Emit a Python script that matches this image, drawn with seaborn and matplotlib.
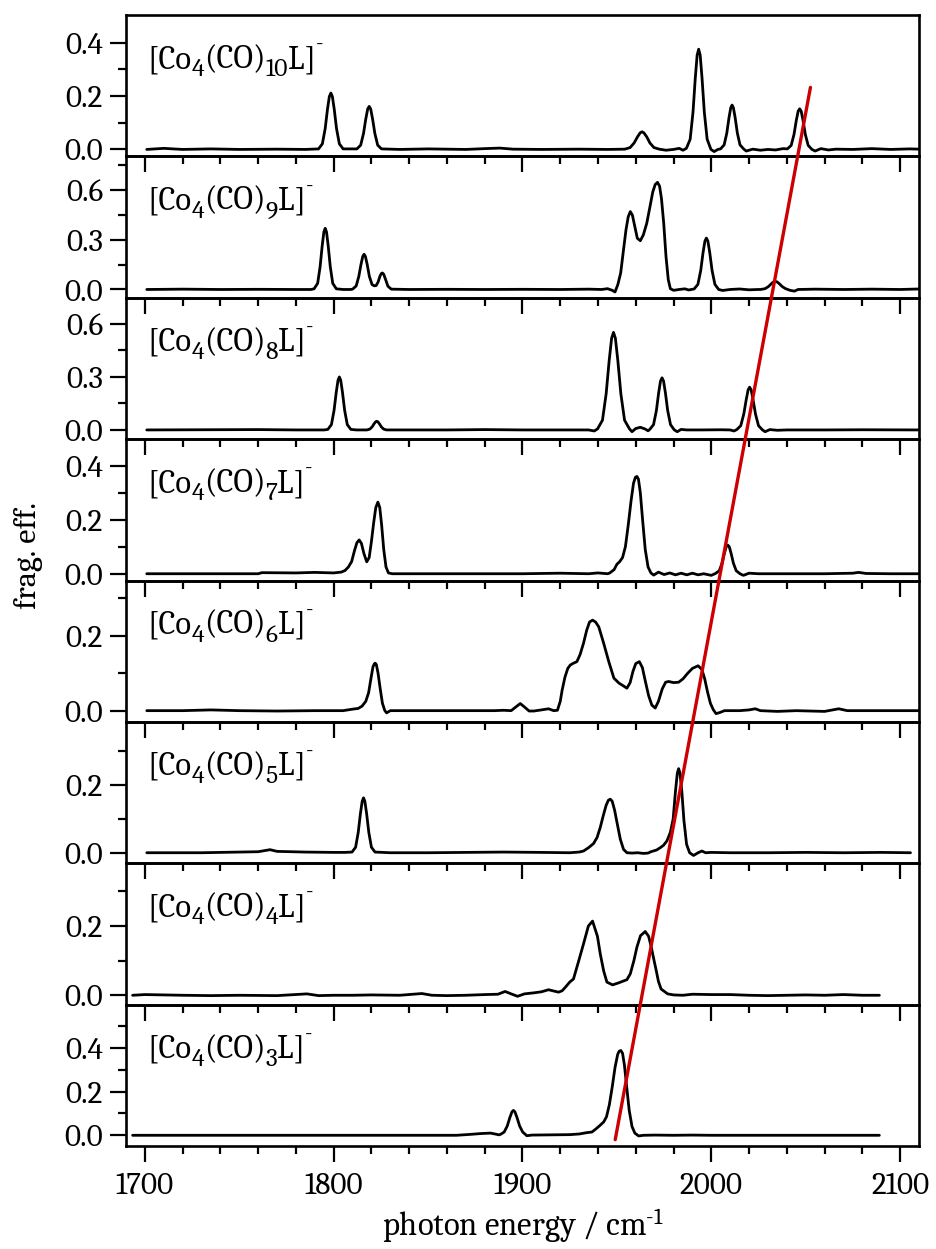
import matplotlib
matplotlib.use("Agg")
import matplotlib.pyplot as plt
from matplotlib import font_manager as fm
from matplotlib.transforms import IdentityTransform
from matplotlib.patches import ConnectionPatch
from matplotlib.ticker import FixedLocator, FormatStrFormatter, MultipleLocator
import seaborn as sns
import pandas as pd

# ---------------- data ----------------
co_counts = ["10", "9", "8", "7", "6", "5", "4", "3"]

x_co10 = [1701, 1710, 1720, 1735, 1750, 1770, 1785,
          1792.0, 1794.0, 1795.5, 1796.7, 1797.7, 1798.5, 1799.3, 1800.3, 1801.5, 1803.0, 1805.0,
          1812.3, 1814.3, 1815.8, 1817.0, 1818.0, 1818.8, 1819.6, 1820.6, 1821.8, 1823.3, 1825.3,
          1835, 1850, 1870, 1880, 1888, 1895, 1910, 1930, 1945,
          1954.2, 1957.0, 1959.1, 1960.9, 1962.3, 1963.3, 1964.3, 1965.8, 1967.5, 1969.6, 1972.4,
          1976, 1980, 1983, 1985,
          1986.8, 1988.8, 1990.3, 1991.5, 1992.5, 1993.3, 1994.1, 1995.1, 1996.3, 1997.8, 1999.8,
          2001.5, 2003.5,
          2004.9, 2006.8, 2008.2, 2009.35, 2010.3, 2011.0, 2011.7, 2012.65, 2013.8, 2015.2, 2017.1,
          2018.5, 2022, 2026, 2030, 2034, 2038,
          2040.3, 2042.3, 2043.8, 2045.0, 2046.0, 2046.8, 2047.6, 2048.6, 2049.8, 2051.3, 2053.3,
          2055, 2058, 2062, 2066, 2075, 2085, 2095, 2105, 2110]
y_co10 = [0.0, 0.004, 0.0, 0.002, 0.0, 0.001, 0.0,
          0.002, 0.021, 0.078, 0.150, 0.198, 0.211, 0.198, 0.150, 0.078, 0.021, 0.002,
          0.002, 0.016, 0.060, 0.114, 0.151, 0.161, 0.151, 0.114, 0.060, 0.016, 0.002,
          0.0, 0.002, 0.0, 0.003, 0.005, 0.001, 0.0, 0.001, 0.0,
          0.001, 0.007, 0.024, 0.047, 0.062, 0.066, 0.062, 0.047, 0.024, 0.007, 0.001,
          -0.003, 0.0, 0.004, -0.003,
          0.004, 0.038, 0.139, 0.266, 0.353, 0.375, 0.353, 0.266, 0.139, 0.038, 0.0,
          -0.008, 0.0,
          0.002, 0.017, 0.061, 0.118, 0.156, 0.166, 0.156, 0.118, 0.061, 0.017, 0.002,
          -0.006, 0.001, -0.003, 0.0, -0.002, 0.003,
          0.002, 0.015, 0.056, 0.108, 0.143, 0.152, 0.143, 0.108, 0.056, 0.015, 0.0,
          -0.006, 0.003, -0.002, 0.001, 0.0, 0.003, 0.0, 0.002, 0.001]

x_co9 = [1701, 1720, 1740, 1760, 1780, 1788,
         1789.6, 1791.5, 1792.8, 1793.9, 1794.8, 1795.5, 1796.2, 1797.1, 1798.2, 1799.5, 1801.4,
         1805, 1809,
         1810.0, 1811.9, 1813.3, 1814.45, 1815.4, 1816.1, 1816.8, 1817.75, 1818.9, 1820.3,
         1821.5, 1822.5, 1823.5, 1824.5, 1825.2, 1825.8, 1826.5, 1827.5, 1828.7, 1830.5,
         1840, 1860, 1880, 1900, 1920, 1935, 1942, 1945, 1947.5, 1949,
         1950.5, 1952.0, 1953.5, 1954.8, 1956.0, 1957.1, 1958.2, 1959.5, 1960.8, 1962.4,
         1964.0, 1965.8, 1967.5, 1969.0, 1970.3, 1971.5, 1972.6, 1973.6, 1974.8, 1976.0,
         1977.2, 1978.3, 1980, 1983, 1986, 1988,
         1990.9, 1992.9, 1994.4, 1995.6, 1996.6, 1997.4, 1998.2, 1999.2, 2000.4, 2001.9, 2003.9,
         2006, 2010, 2015, 2020, 2025,
         2026.1, 2028.5, 2030.3, 2031.8, 2033.0, 2033.9, 2034.8, 2036.0, 2037.5, 2039.3, 2041.7,
         2044, 2046, 2055, 2070, 2085, 2100, 2110]
y_co9 = [0.0, 0.002, 0.0, 0.001, 0.0, 0.0,
         0.004, 0.037, 0.137, 0.263, 0.348, 0.370, 0.348, 0.263, 0.137, 0.037, 0.004,
         0.0, 0.0,
         0.002, 0.021, 0.079, 0.151, 0.200, 0.213, 0.200, 0.151, 0.079, 0.030,
         0.022, 0.024, 0.045, 0.080, 0.096, 0.100, 0.092, 0.060, 0.020, 0.002,
         0.0, 0.001, 0.0, 0.001, 0.0, 0.002, 0.0, 0.005, -0.005, -0.015,
         0.03, 0.10, 0.24, 0.36, 0.44, 0.471, 0.45, 0.38, 0.31, 0.295,
         0.33, 0.40, 0.50, 0.59, 0.635, 0.648, 0.625, 0.55, 0.40, 0.20,
         0.06, 0.005, -0.005, 0.0, 0.004, -0.003,
         0.003, 0.031, 0.115, 0.221, 0.292, 0.311, 0.292, 0.221, 0.115, 0.031, 0.0,
         -0.006, 0.0, 0.003, -0.002, 0.0,
         0.0, 0.005, 0.018, 0.035, 0.046, 0.049, 0.046, 0.035, 0.018, 0.005, -0.005,
         -0.010, 0.0, 0.002, 0.0, 0.002, 0.0, 0.003]

x_co8 = [1701, 1730, 1760, 1780, 1795,
         1796.9, 1798.8, 1800.2, 1801.35, 1802.3, 1803.0, 1803.7, 1804.65, 1805.8, 1807.2, 1809.1,
         1812, 1817,
         1817.6, 1819.2, 1820.4, 1821.4, 1822.2, 1822.8, 1823.4, 1824.2, 1825.2, 1826.4, 1828.0,
         1840, 1860, 1880, 1900, 1920, 1935, 1938,
         1939.75, 1942.35, 1944.3, 1945.9, 1947.2, 1948.2, 1949.2, 1950.5, 1952.1, 1954.05, 1956.65,
         1958, 1960, 1962.4, 1965, 1966.5,
         1967.4, 1969.4, 1970.9, 1972.1, 1973.1, 1973.9, 1974.7, 1975.7, 1976.9, 1978.4, 1980.4,
         1982, 1984, 1987, 1995, 2005, 2010, 2012,
         2013.5, 2015.6, 2017.2, 2018.5, 2019.5, 2020.3, 2021.1, 2022.1, 2023.4, 2025.0, 2027.1,
         2028.5, 2031, 2035, 2040, 2060, 2080, 2110]
y_co8 = [0.0, 0.001, 0.002, 0.0, 0.0,
         0.003, 0.030, 0.111, 0.213, 0.282, 0.300, 0.282, 0.213, 0.111, 0.030, 0.003,
         0.0, 0.0,
         0.0, 0.005, 0.018, 0.035, 0.046, 0.049, 0.046, 0.035, 0.018, 0.005, 0.0,
         0.0, 0.0, 0.002, 0.0, 0.0, 0.0, -0.006,
         0.006, 0.055, 0.204, 0.392, 0.519, 0.552, 0.519, 0.392, 0.204, 0.055, 0.006,
         -0.010, 0.008, 0.015, 0.005, -0.005,
         0.003, 0.030, 0.109, 0.209, 0.277, 0.295, 0.277, 0.209, 0.109, 0.030, 0.0,
         -0.010, 0.003, 0.0, 0.0, 0.001, 0.0, -0.006,
         0.002, 0.024, 0.090, 0.172, 0.227, 0.242, 0.227, 0.172, 0.090, 0.024, 0.0,
         -0.010, 0.002, -0.002, 0.0, 0.0, 0.001, 0.0]

x_co7 = [1701, 1740, 1760, 1762, 1780, 1790, 1800, 1804,
         1806, 1807.8, 1809.5, 1811, 1812.3, 1813.5, 1814.7, 1816, 1817.5, 1818.8,
         1820, 1821.2, 1822.3, 1823.4, 1824.4, 1825.4, 1826.5, 1827.7, 1829, 1831,
         1840, 1860, 1880, 1900, 1920, 1935, 1940, 1945,
         1946, 1948.5, 1950, 1951.5, 1953, 1954.5, 1956, 1957.5, 1958.8, 1959.8,
         1960.6, 1961.4, 1962.4, 1963.6, 1965, 1966.5, 1968, 1969.5,
         1972, 1975, 1978, 1981, 1984, 1987, 1990, 1993, 1996, 2000,
         2002.2, 2004.2, 2005.7, 2006.9, 2007.9, 2008.7, 2009.5, 2010.5, 2011.7, 2013.2, 2015.2,
         2017, 2020, 2025, 2040, 2060, 2075, 2078, 2082, 2095, 2110]
y_co7 = [0.0, 0.0, 0.0, 0.004, 0.003, 0.005, 0.003, 0.006,
         0.012, 0.025, 0.045, 0.085, 0.115, 0.125, 0.112, 0.075, 0.044, 0.060,
         0.120, 0.190, 0.245, 0.265, 0.245, 0.180, 0.090, 0.025, 0.003, 0.0,
         0.0, 0.0, 0.0, 0.0, 0.002, 0.0, 0.003, 0.0,
         0.002, 0.015, 0.035, 0.045, 0.060, 0.100, 0.180, 0.270, 0.335, 0.357,
         0.360, 0.350, 0.300, 0.200, 0.090, 0.025, 0.003, -0.005,
         0.006, -0.003, 0.003, -0.004, 0.002, -0.004, 0.002, -0.004, 0.0, -0.006,
         0.001, 0.011, 0.039, 0.075, 0.100, 0.106, 0.100, 0.075, 0.039, 0.011, 0.0,
         -0.006, 0.002, 0.0, 0.0, 0.0, 0.002, 0.005, 0.001, 0.0, 0.0]

x_co6 = [1701, 1720, 1735, 1750, 1770, 1790, 1805, 1810,
         1813, 1815, 1817, 1818.5, 1819.7, 1820.8, 1821.5, 1822, 1822.6, 1823.5, 1824.6, 1825.8,
         1827, 1828, 1830,
         1850, 1870, 1885, 1890,
         1894, 1896.5, 1898.8, 1901, 1903.5, 1906, 1910, 1913.8, 1916.5,
         1918.5, 1920, 1921, 1922.5, 1924, 1925.3, 1927, 1928.8, 1930.5, 1932.3,
         1934, 1935.5, 1937.1, 1938.7, 1940.4, 1943.0, 1945.7, 1948.4, 1951.0, 1953.5,
         1955.3, 1957, 1958.5, 1960, 1961.9, 1963.5, 1965, 1966.8, 1968.5, 1970.3,
         1972, 1974, 1975.8, 1977.4, 1980, 1982.7, 1985, 1987.5, 1990, 1993,
         1995, 1996.5, 1998, 1999.5, 2001, 2002.5, 2004.5, 2007,
         2015, 2020, 2023.3, 2026, 2035, 2045, 2060, 2067.5, 2072, 2090, 2110]
y_co6 = [0.0, 0.0, 0.002, 0.0, -0.001, 0.0, 0.0, 0.004,
         0.006, 0.012, 0.025, 0.048, 0.085, 0.117, 0.125, 0.127, 0.123, 0.100, 0.060, 0.020,
         0.001, -0.006, 0.0,
         0.0, 0.0, 0.0, 0.001,
         0.0, 0.010, 0.019, 0.010, -0.001, -0.001, 0.002, 0.005, 0.0,
         0.001, 0.025, 0.055, 0.090, 0.113, 0.122, 0.127, 0.131, 0.150, 0.180,
         0.215, 0.237, 0.242, 0.237, 0.224, 0.180, 0.131, 0.087, 0.074, 0.066,
         0.060, 0.075, 0.105, 0.126, 0.131, 0.115, 0.080, 0.040, 0.015, 0.007,
         0.025, 0.058, 0.076, 0.078, 0.075, 0.076, 0.085, 0.100, 0.113, 0.120,
         0.110, 0.085, 0.050, 0.020, 0.003, -0.008, -0.005, 0.0,
         0.0, 0.002, 0.005, 0.0, -0.002, 0.0, -0.002, 0.005, 0.0, 0.0, 0.0]

x_co5 = [1701, 1730, 1750, 1760, 1766.3, 1770, 1785, 1800, 1806,
         1809.7, 1811.6, 1813.0, 1814.15, 1815.1, 1815.8, 1816.5, 1817.45, 1818.6, 1820.0, 1821.9,
         1830, 1850, 1870, 1890, 1910, 1925, 1930,
         1932.3, 1935, 1937.6, 1939.5, 1941.2, 1942.8, 1944.3, 1945.5, 1946.5, 1947.5,
         1948.8, 1950.2, 1951.8, 1953.5, 1955.3, 1958, 1961, 1964, 1966.5, 1968,
         1971, 1973, 1974.7,
         1976.5, 1978.3, 1979.8, 1981.0, 1982.0, 1982.7, 1983.4, 1984.4, 1985.5, 1986.9,
         1988.5, 1990.6, 1993, 1995, 1997,
         2000, 2010, 2030, 2050, 2070, 2090, 2105.5]
y_co5 = [0.0, 0.0, 0.002, 0.003, 0.009, 0.004, 0.002, 0.001, 0.001,
         0.002, 0.016, 0.060, 0.115, 0.152, 0.162, 0.152, 0.115, 0.060, 0.016, 0.002,
         0.0, 0.0, 0.001, 0.002, 0.001, 0.0, 0.002,
         0.005, 0.015, 0.027, 0.045, 0.075, 0.110, 0.140, 0.155, 0.158, 0.152,
         0.125, 0.085, 0.040, 0.010, 0.0, -0.001, 0.0, -0.002, -0.001, 0.003,
         0.008, 0.015, 0.022,
         0.035, 0.060, 0.100, 0.180, 0.235, 0.248, 0.235, 0.180, 0.095, 0.025,
         0.0, -0.008, 0.0, 0.005, 0.0,
         0.001, 0.0, 0.0, 0.001, 0.0, 0.001, 0.0]

x_co4 = [1693.5, 1700, 1710, 1720, 1735, 1750, 1770, 1785.8, 1792, 1800,
         1810, 1820, 1835, 1846.7, 1852, 1860, 1870, 1880, 1887, 1890.8,
         1894, 1897.4, 1901, 1906, 1910, 1913.8, 1916, 1919.1, 1921, 1923, 1925,
         1927, 1929.6, 1932.3, 1934.9, 1937.1, 1939.7, 1941.2, 1943, 1944.7, 1947.7, 1951, 1955.3,
         1957.1, 1959, 1960.6, 1962.5, 1965, 1966.8, 1968.2, 1969.5, 1970.8, 1972, 1973.4, 1976.9, 1980,
         1985, 1990, 2000, 2010, 2020, 2030, 2040, 2050, 2060, 2070, 2080, 2089]
y_co4 = [0.0, 0.002, 0.001, 0.0, -0.001, 0.0, -0.001, 0.004, -0.001, 0.0,
         0.0, 0.001, 0.0, 0.005, 0.0, -0.001, 0.0, 0.002, 0.003, 0.011,
         0.004, -0.003, 0.004, 0.007, 0.010, 0.016, 0.013, 0.009, 0.013, 0.025, 0.038,
         0.047, 0.096, 0.148, 0.200, 0.214, 0.170, 0.119, 0.070, 0.038, 0.030, 0.036, 0.045,
         0.062, 0.100, 0.139, 0.172, 0.184, 0.170, 0.139, 0.105, 0.072, 0.040, 0.018, 0.004, 0.001,
         0.0, 0.003, 0.002, 0.002, 0.0, -0.001, 0.0, 0.001, 0.0, 0.002, 0.0, 0.0]

x_co3 = [1693.5, 1750, 1800, 1850, 1865, 1872, 1878, 1883, 1886, 1887.5,
         1888.5, 1890.3, 1891.9, 1893.3, 1894.4, 1895.2, 1896.0, 1897.1, 1898.5, 1900.1, 1902.3,
         1905, 1915, 1925, 1930, 1934,
         1936.8, 1939, 1941, 1943, 1944.5, 1946, 1947.5, 1949, 1950.4, 1951.2,
         1952.1, 1953, 1954, 1955.2, 1956.5, 1958, 1959.5, 1961.5,
         1964, 1970, 1980, 1990, 2000, 2050, 2089]
y_co3 = [0.0, 0.0, 0.0, 0.0, 0.0, 0.004, 0.008, 0.010, 0.005, 0.002,
         0.005, 0.015, 0.042, 0.081, 0.107, 0.114, 0.107, 0.081, 0.042, 0.015, -0.002,
         0.001, 0.002, 0.003, 0.006, 0.012,
         0.015, 0.030, 0.045, 0.061, 0.085, 0.140, 0.220, 0.310, 0.370, 0.385,
         0.388, 0.375, 0.320, 0.220, 0.115, 0.040, 0.010, -0.003,
         0.0, 0.001, 0.0, 0.001, 0.0, 0.0, 0.0]

series_x = [x_co10, x_co9, x_co8, x_co7, x_co6, x_co5, x_co4, x_co3]
series_y = [y_co10, y_co9, y_co8, y_co7, y_co6, y_co5, y_co4, y_co3]

y_limits = [(-0.026, 0.503), (-0.05, 0.805), (-0.052, 0.748), (-0.025, 0.498),
            (-0.03, 0.348), (-0.031, 0.386), (-0.027, 0.381), (-0.049, 0.598)]
y_major = [[0.0, 0.2, 0.4], [0.0, 0.3, 0.6], [0.0, 0.3, 0.6], [0.0, 0.2, 0.4],
           [0.0, 0.2], [0.0, 0.2], [0.0, 0.2], [0.0, 0.2, 0.4]]
y_minor = [[0.1, 0.3], [0.15, 0.45, 0.75], [0.15, 0.45], [0.1, 0.3],
           [0.1, 0.3], [0.1, 0.3], [0.1, 0.3], [0.1, 0.3, 0.5]]

x_range = (1690, 2110)
x_major_ticks = [1700, 1800, 1900, 2000, 2100]

# red guide line: (x, y) at its lower end (bottom panel) and upper end (top panel)
red_start = (1949.1, -0.02)
red_end = (2052.5, 0.232)

# ---------------- style ----------------
sns.set_style("ticks")
installed = {f.name for f in fm.fontManager.ttflist}
if "Caladea" in installed:
    serif = "Caladea"
    tick_size, label_size, axis_size = 22.5, 23.5, 23
else:
    serif = "DejaVu Serif"
    tick_size, label_size, axis_size = 20.5, 20, 21
plt.rcParams["font.family"] = [serif, "DejaVu Serif"]
plt.rcParams["mathtext.fontset"] = "custom"
plt.rcParams["mathtext.rm"] = serif
plt.rcParams["mathtext.it"] = serif + ":italic"
plt.rcParams["mathtext.bf"] = serif + ":bold"
for key in ["text.color", "axes.labelcolor", "xtick.color", "ytick.color", "axes.edgecolor"]:
    plt.rcParams[key] = "black"

DPI = 100
fig = plt.figure(figsize=(9.37, 12.49), dpi=DPI)
gs = fig.add_gridspec(8, 1, left=126 / 937, right=919 / 937,
                      top=1 - 15 / 1249, bottom=1 - 1146 / 1249, hspace=0)
axes = [fig.add_subplot(gs[i, 0]) for i in range(8)]
renderer = fig.canvas.get_renderer()


def chem_label(ax, n, x0, y0):
    """Write [Co4(CO)nL]- with lowered subscripts and a raised short hyphen."""
    sub_size = label_size * 0.78
    sup_size = label_size * 0.7
    runs = [("[Co", label_size, 0.0), ("4", sub_size, -0.25), ("(CO)", label_size, 0.0),
            (n, sub_size, -0.25), ("L]", label_size, 0.0), ("-", sup_size, 0.52)]
    px, py = ax.transAxes.transform((x0, y0))
    for txt, size, dy in runs:
        t = fig.text(px, py + dy * label_size * DPI / 72, txt, transform=IdentityTransform(),
                     fontsize=size, ha="left", va="baseline", color="black")
        bb = t.get_window_extent(renderer)
        px = bb.x1


for i, ax in enumerate(axes):
    df = pd.DataFrame({"x": series_x[i], "y": series_y[i]})
    sns.lineplot(data=df, x="x", y="y", ax=ax, color="black", linewidth=2.0,
                 estimator=None, sort=False)
    ax.set_xlim(*x_range)
    ax.set_ylim(*y_limits[i])
    ax.patch.set_visible(False)
    ax.set_xlabel("")
    ax.set_ylabel("")
    ax.xaxis.set_major_locator(FixedLocator(x_major_ticks))
    ax.xaxis.set_minor_locator(MultipleLocator(20))
    ax.yaxis.set_major_locator(FixedLocator(y_major[i]))
    ax.yaxis.set_minor_locator(FixedLocator(y_minor[i]))
    ax.yaxis.set_major_formatter(FormatStrFormatter("%.1f"))
    ax.tick_params(which="major", direction="out", length=11.5, width=1.6,
                   labelsize=tick_size, pad=5, color="black", labelcolor="black")
    ax.tick_params(which="minor", direction="out", length=6, width=1.6, color="black")
    ax.tick_params(axis="x", which="both", top=False, bottom=True)
    ax.tick_params(axis="y", which="both", left=True, right=False)
    if i < 7:
        ax.tick_params(axis="x", labelbottom=False)
    for s in ax.spines.values():
        s.set_linewidth(1.9)
        s.set_color("black")
    chem_label(ax, co_counts[i], 0.027, 0.625)

axes[-1].tick_params(axis="x", pad=7)

con = ConnectionPatch(xyA=red_start, coordsA=axes[-1].transData,
                      xyB=red_end, coordsB=axes[0].transData,
                      color="#cc0000", linewidth=2.4, zorder=10)
fig.add_artist(con)

fig.text(0.030, 0.555, "frag. eff.", rotation=90, ha="center", va="center",
         fontsize=axis_size, color="black")
fig.text((126 + 919) / 2 / 937, 1 - 1226 / 1249, r"photon energy / cm$^{\text{-1}}$",
         ha="center", va="center", fontsize=axis_size + 0.5, color="black")

fig.savefig("out.png", dpi=DPI, facecolor="white")
